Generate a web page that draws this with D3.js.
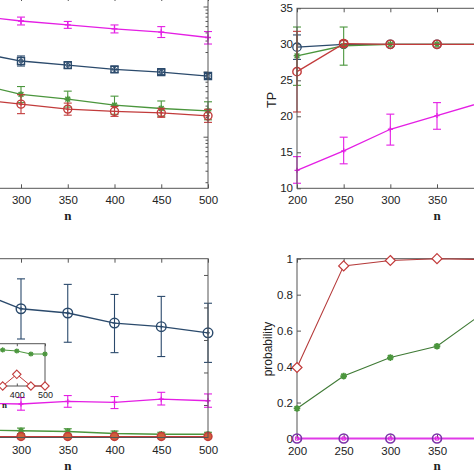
<!DOCTYPE html>
<html><head><meta charset="utf-8">
<script src="https://cdn.jsdelivr.net/npm/d3@7"></script>
<style>html,body{margin:0;padding:0;background:#fff;overflow:hidden}</style>
</head><body><svg id="c" width="474" height="474"></svg>
<script>
// ---------- data ----------
const nVals = [200, 250, 300, 350, 400, 450, 500];

// top-left (log scale)
const tlMagenta   = [84, 73, 61, 53, 46, 41, 34];
const tlMagentaLo = [74, 64, 53, 47, 40, 34, 27];
const tlMagentaHi = [96, 83, 70, 60, 53, 50, 42];
const tlBlue   = [26, 20.3, 14.8, 12.8, 11.0, 10.0, 8.7];
const tlBlueLo = [22.6, 17.6, 12.4, 11.5, 9.9, 9.15, 8.0];
const tlBlueHi = [30, 23.4, 17.7, 14.2, 12.2, 10.9, 9.5];
const tlGreen   = [9.0, 6.8, 4.54, 3.84, 3.1, 2.76, 2.54];
const tlGreenLo = [6.8, 5.1, 3.4, 2.9, 2.25, 2.1, 1.85];
const tlGreenHi = [12, 9.0, 6.0, 5.1, 4.27, 3.6, 3.5];
const tlRed   = [4.9, 3.84, 3.22, 2.7, 2.49, 2.37, 2.13];
const tlRedLo = [3.8, 2.99, 2.3, 2.18, 2.09, 2.02, 1.69];
const tlRedHi = [6.3, 4.9, 4.5, 3.34, 2.97, 2.78, 2.68];

// top-right (TP)
const trTicks = [10, 15, 20, 25, 30, 35];
const trMagenta   = [12.5, 15.2, 18.2, 20.1, 22.0, 23.6, 25.0];
const trMagentaLo = [10.7, 13.4, 16.0, 18.2, 20.0, 21.5, 22.8];
const trMagentaHi = [14.4, 17.1, 20.3, 21.9, 24.0, 25.7, 27.2];
const trBlue   = [29.6, 30, 30, 30, 30, 30, 30];
const trBlueLo = [27.9, 30, 30, 30, 30, 30, 30];
const trBlueHi = [31.3, 30, 30, 30, 30, 30, 30];
const trGreen   = [28.4, 29.8, 30, 30, 30, 30, 30];
const trGreenLo = [24.3, 27.1, 30, 30, 30, 30, 30];
const trGreenHi = [32.4, 32.4, 30, 30, 30, 30, 30];
const trRed   = [26.2, 30.1, 30, 30, 30, 30, 30];
const trRedLo = [20.6, 29.7, 30, 30, 30, 30, 30];
const trRedHi = [31.8, 30.5, 30, 30, 30, 30, 30];

// bottom-left
const blTicks = [0, 10, 20, 30, 40, 50];
const blBlue   = [47, 45.3, 39.6, 38.3, 35.2, 34.1, 32.2];
const blBlueLo = [38, 36, 30.3, 29.3, 26.1, 24.9, 23.1];
const blBlueHi = [54, 53.5, 48.8, 47.1, 44.0, 43.4, 41.3];
const blMagenta   = [10.0, 10.5, 10.3, 11.1, 10.8, 11.8, 11.3];
const blMagentaLo = [8.2, 8.6, 8.4, 9.3, 8.9, 10.0, 9.3];
const blMagentaHi = [11.8, 12.4, 12.3, 12.9, 12.6, 13.9, 13.4];
const blGreen   = [2.5, 2.3, 2.07, 1.85, 1.23, 1.0, 1.0];
const blGreenLo = [1.6, 1.4, 1.2, 1.0, 0.5, 0.4, 0.4];
const blGreenHi = [3.4, 3.2, 2.9, 2.7, 2.0, 1.6, 1.6];
const blRed   = [0.3, 0.3, 0.3, 0.3, 0.3, 0.3, 0.3];
const blRedLo = [0, 0, 0, 0, 0, 0, 0];
const blRedHi = [0.6, 0.6, 0.6, 0.6, 0.6, 0.6, 0.6];
// inset
const insetTicks = [200, 300, 400, 500];
const insetGreen = [2.3, 2.2, 2.15, 2.13, 2.07, 1.89, 1.89];
const insetRed   = [0, 0, 0, 0, 0.69, 0, 0];

// bottom-right (probability)
const brTicks = [0, 0.2, 0.4, 0.6, 0.8, 1];
const brRed     = [0.395, 0.96, 0.99, 1.0, 0.995, 1.0, 1.0];
const brGreen   = [0.167, 0.347, 0.45, 0.513, 0.70, 0.78, 0.85];
const brMagenta = [0, 0, 0, 0, 0, 0, 0];

// ---------- drawing ----------
const W = 474;
const svg = d3.select('#c');
const COL = {magenta:'#e41ee4', blue:'#2b4a6c', green:'#4b963d', red:'#c23b3b', purple:'#7b33a8'};
const FONT = '"Liberation Sans", Arial, Helvetica, sans-serif';
const FRAME = '#555';

function markerPath(type, s) {
  if (type === 'plus') return `M${-s},0H${s}M0,${-s}V${s}`;
  if (type === 'star') { const d = s*0.72; return `M${-s},0H${s}M0,${-s}V${s}M${-d},${-d}L${d},${d}M${-d},${d}L${d},${-d}`; }
  if (type === 'diamond') return `M0,${-s}L${s},0L0,${s}L${-s},0Z`;
  if (type === 'square') return `M${-s},${-s}H${s}V${s}H${-s}Z`;
  if (type === 'circle') return d3.symbol(d3.symbolCircle, Math.PI*s*s)();
  return '';
}

function series(g, x, y, vals, opt) {
  const pts = nVals.map((n, i) => [n, vals[i]]);
  if (opt.lo) {
    const eg = g.append('g').attr('stroke', opt.color).attr('stroke-width', 1.1);
    nVals.forEach((n, i) => {
      if (opt.lo[i] === opt.hi[i]) return;
      const cx = x(n), a = y(opt.lo[i]), b = y(opt.hi[i]);
      eg.append('line').attr('x1', cx).attr('x2', cx).attr('y1', a).attr('y2', b);
      eg.append('line').attr('x1', cx-4).attr('x2', cx+4).attr('y1', a).attr('y2', a);
      eg.append('line').attr('x1', cx-4).attr('x2', cx+4).attr('y1', b).attr('y2', b);
    });
  }
  g.append('path').datum(pts)
    .attr('d', d3.line().x(d => x(d[0])).y(d => y(d[1])))
    .attr('fill', 'none').attr('stroke', opt.lineColor || opt.color).attr('stroke-width', opt.lw || 1.3);
  const mg = g.append('g');
  pts.forEach(p => {
    mg.append('path').attr('transform', `translate(${x(p[0])},${y(p[1])})`)
      .attr('d', markerPath(opt.marker, opt.size || 4))
      .attr('fill', opt.fill || 'none').attr('stroke', opt.mcolor || opt.color)
      .attr('stroke-width', opt.mw || 1.3);
    if (opt.inner) {
      mg.append('path').attr('transform', `translate(${x(p[0])},${y(p[1])})`)
        .attr('d', markerPath(opt.inner, opt.innerSize || 1.6))
        .attr('fill', 'none').attr('stroke', opt.innerColor || opt.color).attr('stroke-width', 1);
    }
  });
}

function frame(g, b) {
  g.append('rect').attr('x', b.x0).attr('y', b.y0).attr('width', b.x1-b.x0).attr('height', b.y1-b.y0)
    .attr('fill', b.fill || 'none').attr('stroke', FRAME).attr('stroke-width', 1);
}

// keep only tick labels that fall fully inside the picture
function pruneLabels(sel) {
  sel.selectAll('.tick').each(function() {
    const t = d3.select(this).select('text');
    if (t.empty()) return;
    const bb = this.getBBox();
    const m = this.transform.baseVal.consolidate();
    const tx = m ? m.matrix.e : 0;
    const parent = this.parentNode.transform.baseVal.consolidate();
    const px = parent ? parent.matrix.e : 0;
    const left = bb.x + tx + px, right = left + bb.width;
    if (left < 0 || right > W) t.remove();
  });
}

function xAxes(g, x, b, fs, pad, tv) {
  const bottom = g.append('g').attr('transform', `translate(0,${b.y1})`)
    .call(d3.axisBottom(x).tickValues(tv || nVals).tickSizeInner(-(b.tick||4)).tickSizeOuter(0).tickPadding(pad).tickFormat(d3.format('d')));
  bottom.select('.domain').remove();
  bottom.selectAll('line').attr('stroke', FRAME);
  bottom.selectAll('text').attr('font-family', FONT).attr('font-size', fs).attr('fill', '#222');
  pruneLabels(bottom);
  const top = g.append('g').attr('transform', `translate(0,${b.y0})`)
    .call(d3.axisTop(x).tickValues(tv || nVals).tickSizeInner(-(b.tick||4)).tickSizeOuter(0).tickFormat(''));
  top.select('.domain').remove();
  top.selectAll('line').attr('stroke', FRAME);
}

function yAxes(g, y, b, tv, fmt) {
  const left = g.append('g').attr('transform', `translate(${b.x0},0)`)
    .call(d3.axisLeft(y).tickValues(tv).tickSizeInner(-4).tickSizeOuter(0).tickPadding(4).tickFormat(fmt));
  left.select('.domain').remove();
  left.selectAll('line').attr('stroke', FRAME);
  left.selectAll('text').attr('font-family', FONT).attr('font-size', 11.5).attr('fill', '#222');
  if (b.x0 < 0) left.selectAll('text').remove();
  const right = g.append('g').attr('transform', `translate(${b.x1},0)`)
    .call(d3.axisRight(y).tickValues(tv).tickSizeInner(-4).tickSizeOuter(0).tickFormat(''));
  right.select('.domain').remove();
  right.selectAll('line').attr('stroke', FRAME);
}

function nLabel(cx, yb, fs) {
  svg.append('text').attr('x', cx).attr('y', yb).attr('text-anchor', 'middle')
    .attr('font-family', '"Liberation Serif", "Times New Roman", serif').attr('font-weight', 'bold')
    .attr('font-size', fs || 13).attr('fill', '#222').text('n');
}

// ===== top-left (log) =====
{
  const b = {x0: -72.5, x1: 208, y0: -3, y1: 188.3};
  const g = svg.append('g');
  const x = d3.scaleLinear().domain([200, 500]).range([b.x0, b.x1]);
  const y = d3.scaleLog().domain([0.164, 142.5]).range([b.y1, b.y0]);
  const tks = y.ticks();
  const tg = g.append('g').attr('stroke', FRAME);
  tks.forEach(t => {
    const major = Math.abs(Math.log10(t) - Math.round(Math.log10(t))) < 1e-9;
    const L = major ? 4.5 : 2.5;
    tg.append('line').attr('x1', b.x0).attr('x2', b.x0 + L).attr('y1', y(t)).attr('y2', y(t));
    tg.append('line').attr('x1', b.x1).attr('x2', b.x1 - L).attr('y1', y(t)).attr('y2', y(t));
  });
  xAxes(g, x, b, 11.5, 8);
  series(g, x, y, tlMagenta, {color: COL.magenta, lo: tlMagentaLo, hi: tlMagentaHi, marker: 'plus', size: 3});
  series(g, x, y, tlBlue, {color: COL.blue, lo: tlBlueLo, hi: tlBlueHi, marker: 'square', size: 3.5, inner: 'circle', innerSize: 2, mw: 1.4});
  series(g, x, y, tlGreen, {color: COL.green, lo: tlGreenLo, hi: tlGreenHi, marker: 'star', size: 3.3, mw: 1.5});
  series(g, x, y, tlRed, {color: COL.red, lo: tlRedLo, hi: tlRedHi, marker: 'circle', size: 4, mw: 1.4, inner: 'plus', innerSize: 2});
  frame(g, b);
  nLabel((b.x0 + b.x1) / 2, 219.5);
}

// ===== top-right (TP) =====
{
  const b = {x0: 297, x1: 577, y0: 8.3, y1: 188.3};
  const g = svg.append('g');
  const x = d3.scaleLinear().domain([200, 500]).range([b.x0, b.x1]);
  const y = d3.scaleLinear().domain([10, 35]).range([b.y1, b.y0]);
  xAxes(g, x, b, 11.5, 8);
  yAxes(g, y, b, trTicks, d3.format('d'));
  series(g, x, y, trMagenta, {color: COL.magenta, lo: trMagentaLo, hi: trMagentaHi, marker: 'plus', size: 2.5});
  series(g, x, y, trBlue, {color: COL.blue, lo: trBlueLo, hi: trBlueHi, marker: 'circle', size: 4.2});
  series(g, x, y, trGreen, {color: COL.green, lo: trGreenLo, hi: trGreenHi, marker: 'star', size: 3.3, mw: 1.5});
  series(g, x, y, trRed, {color: COL.red, lo: trRedLo, hi: trRedHi, marker: 'circle', size: 4.2, mw: 1.4});
  frame(g, b);
  svg.append('text').attr('transform', 'translate(276,100) rotate(-90)').attr('text-anchor', 'middle')
    .attr('font-family', FONT).attr('font-size', 12.5).attr('fill', '#222').text('TP');
  nLabel((b.x0 + b.x1) / 2, 219.5);
}

// ===== bottom-left =====
{
  const b = {x0: -72.5, x1: 208, y0: 258.7, y1: 437.5};
  const g = svg.append('g');
  const x = d3.scaleLinear().domain([200, 500]).range([b.x0, b.x1]);
  const y = d3.scaleLinear().domain([0, 55]).range([b.y1, b.y0]);
  xAxes(g, x, b, 11.5, 8);
  yAxes(g, y, b, blTicks, d3.format('d'));
  series(g, x, y, blBlue, {color: COL.blue, lo: blBlueLo, hi: blBlueHi, marker: 'circle', size: 4.8, mw: 1.4, inner: 'plus', innerSize: 2});
  series(g, x, y, blMagenta, {color: COL.magenta, lo: blMagentaLo, hi: blMagentaHi, marker: 'plus', size: 2.5});
  series(g, x, y, blGreen, {color: COL.green, lo: blGreenLo, hi: blGreenHi, marker: 'star', size: 3.3, mw: 1.5});
  series(g, x, y, blRed, {color: COL.red, lo: blRedLo, hi: blRedHi, marker: 'circle', size: 4, mw: 1.4, fill: '#d0603a'});
  frame(g, b);
  nLabel((b.x0 + b.x1) / 2, 470);

  // inset
  const ib = {x0: -39.6, x1: 45, y0: 343.7, y1: 386, fill: '#fff', tick: 2.5};
  const ig = svg.append('g');
  frame(ig, ib);
  const ix = d3.scaleLinear().domain([200, 500]).range([ib.x0, ib.x1]);
  const iy = d3.scaleLinear().domain([0, 2.5]).range([ib.y1, ib.y0]);
  xAxes(ig, ix, ib, 9, 6, insetTicks);
  series(ig, ix, iy, insetGreen, {color: COL.green, marker: 'star', size: 2.6, lw: 1, mw: 1.3});
  series(ig, ix, iy, insetRed, {color: COL.red, marker: 'diamond', size: 4.2, lw: 1, mw: 1.1, fill: '#fff'});
  nLabel(4.5, 408, 9);
}

// ===== bottom-right (probability) =====
{
  const b = {x0: 297, x1: 577, y0: 258.7, y1: 438.5};
  const g = svg.append('g');
  const x = d3.scaleLinear().domain([200, 500]).range([b.x0, b.x1]);
  const y = d3.scaleLinear().domain([0, 1]).range([b.y1, b.y0]);
  xAxes(g, x, b, 11.5, 8);
  yAxes(g, y, b, brTicks, d3.format('~g'));
  frame(g, b);
  series(g, x, y, brGreen, {color: COL.green, lineColor: '#3f7a35', marker: 'star', size: 3.3, mw: 1.8, lw: 1.1});
  series(g, x, y, brRed, {color: COL.red, lineColor: '#b53a3a', marker: 'diamond', size: 5, mw: 1.2, fill: '#fff', lw: 1.1});
  series(g, x, y, brMagenta, {color: COL.magenta, lineColor: '#e03ae8', marker: 'circle', size: 4.5, mw: 1.6, mcolor: COL.purple, inner: 'square', innerSize: 1.6, innerColor: COL.magenta, lw: 2});
  svg.append('text').attr('transform', 'translate(272,349) rotate(-90)').attr('text-anchor', 'middle')
    .attr('font-family', FONT).attr('font-size', 12).attr('fill', '#222').text('probability');
  nLabel((b.x0 + b.x1) / 2, 470);
}
</script>
</body></html>
